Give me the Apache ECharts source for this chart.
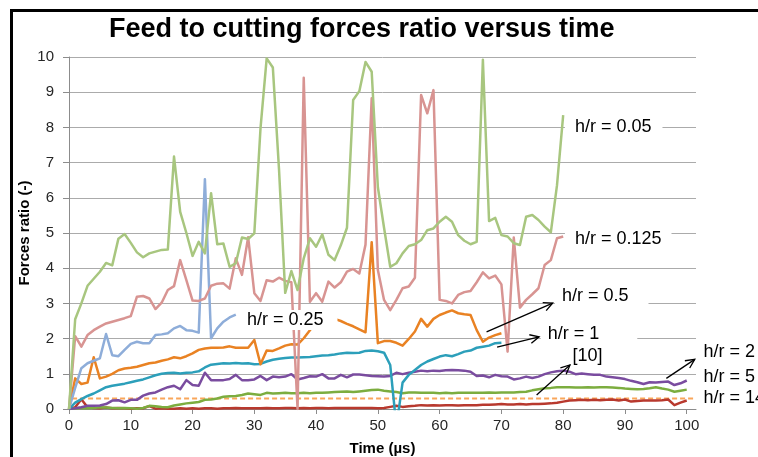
<!DOCTYPE html>
<html>
<head>
<meta charset="utf-8">
<script src="https://cdn.jsdelivr.net/npm/echarts@6/dist/echarts.min.js"></script>
<style>
  html, body { margin: 0; padding: 0; background: #fff; }
  #chart { width: 758px; height: 457px; }
</style>
</head>
<body>
<div id="chart"></div>
<script>
// Time axis (µs), one sample per microsecond
const time = [0,1,2,3,4,5,6,7,8,9,10,11,12,13,14,15,16,17,18,19,20,21,22,23,24,25,26,27,28,29,30,
  31,32,33,34,35,36,37,38,39,40,41,42,43,44,45,46,47,48,49,50,51,52,53,54,55,56,57,58,59,60,
  61,62,63,64,65,66,67,68,69,70,71,72,73,74,75,76,77,78,79,80,81,82,83,84,85,86,87,88,89,90,
  91,92,93,94,95,96,97,98,99,100];
const xTicks = [0,10,20,30,40,50,60,70,80,90,100];
const yTicks = [0,1,2,3,4,5,6,7,8,9,10];

// Feed / cutting force ratio for each h/r
const hr005 = [0,2.55,3.0,3.5,3.7,3.9,4.15,4.08,4.84,4.97,4.72,4.45,4.31,4.42,4.47,4.52,4.53,7.17,5.6,5.0,
  4.35,4.75,4.42,6.13,4.68,4.7,4.04,4.14,4.87,4.83,4.99,7.97,9.96,9.7,6.8,3.3,3.92,3.38,4.28,4.85,
  4.61,4.96,4.38,4.23,4.65,5.15,8.78,9.03,9.86,9.58,6.3,5.15,4.04,4.14,4.42,4.63,4.68,4.8,5.08,5.13,
  5.32,5.46,5.32,4.94,4.78,4.68,4.75,9.92,5.34,5.43,4.94,4.9,4.71,4.66,5.46,5.51,5.37,5.18,5.02,6.36,8.35];
const hr0125 = [0,2.07,1.77,2.1,2.24,2.34,2.43,2.48,2.53,2.58,2.64,3.19,3.21,3.14,2.84,3.02,3.38,3.49,4.23,3.66,
  3.08,3.07,3.14,3.5,3.56,3.57,3.42,4.28,3.81,4.88,3.29,3.07,3.66,3.62,3.73,3.64,3.6,0,9.41,3.05,
  3.29,3.05,3.62,3.45,3.6,3.9,3.98,3.85,4.67,8.83,3.95,3.1,2.81,3.1,3.43,3.48,3.73,8.92,8.4,9.06,
  3.1,3.07,3.0,3.24,3.32,3.35,3.6,3.88,3.71,3.79,3.54,1.63,4.87,2.88,3.1,3.26,3.43,4.09,4.23,4.85,4.9];
const hr025 = [0,0.6,1.16,1.3,1.37,1.44,2.13,1.53,1.5,1.68,1.85,1.91,1.87,1.87,2.1,2.12,2.15,2.29,2.36,2.24,
  2.22,2.17,6.53,2.01,2.29,2.48,2.6,2.68];
const hr05 = [0,0.87,0.71,0.75,1.47,0.87,0.92,1.0,1.1,1.15,1.17,1.2,1.25,1.3,1.32,1.37,1.41,1.47,1.44,1.5,
  1.58,1.68,1.72,1.74,1.74,1.75,1.78,1.74,1.74,1.74,1.96,1.27,1.66,1.65,1.72,1.8,1.84,1.83,2.01,2.24,
  2.45,2.55,2.6,2.56,2.5,2.42,2.35,2.26,2.18,4.74,1.87,1.93,1.93,1.88,1.8,1.99,2.2,2.56,2.34,2.56,
  2.67,2.74,2.8,2.72,2.69,2.67,2.24,1.91,2.03,2.1,2.15];
const hr1 = [0,0.18,0.28,0.37,0.44,0.53,0.62,0.66,0.69,0.72,0.76,0.8,0.84,0.9,0.96,1.0,1.02,1.03,1.01,1.03,
  1.04,1.07,1.18,1.26,1.28,1.3,1.29,1.31,1.29,1.3,1.27,1.28,1.35,1.4,1.43,1.45,1.46,1.46,1.47,1.48,
  1.5,1.52,1.53,1.55,1.58,1.6,1.59,1.6,1.65,1.66,1.64,1.6,1.25,-0.5,0.75,0.97,1.11,1.25,1.35,1.42,
  1.49,1.53,1.5,1.56,1.63,1.66,1.74,1.77,1.8,1.87,1.88];
const hr2 = [0,0.02,0.05,0.09,0.09,0.1,0.14,0.24,0.25,0.19,0.26,0.26,0.38,0.44,0.47,0.55,0.62,0.66,0.56,0.82,
  0.68,0.66,1.03,0.82,0.82,0.82,0.85,0.97,0.82,0.82,0.84,0.94,0.82,0.92,0.9,0.92,0.99,0.84,0.88,0.93,
  0.92,0.99,0.87,0.87,0.97,0.9,0.98,0.98,0.96,0.94,0.93,0.92,0.94,1.03,0.99,1.03,1.06,1.09,1.07,1.09,
  1.08,1.1,1.11,1.1,1.09,1.06,0.94,0.95,0.9,0.97,0.93,0.92,0.84,0.87,0.92,0.88,0.92,0.99,1.04,1.07,
  1.09,1.06,0.99,1.01,0.99,0.97,0.97,0.92,0.9,0.88,0.85,0.8,0.76,0.71,0.76,0.75,0.77,0.78,0.68,0.73,0.81];
const hr5 = [0,0.02,0.03,0.02,0.03,0.05,0.04,0.03,0.02,0.03,0.02,0.01,0.03,0.09,0.08,0.06,0.05,0.1,0.13,0.16,
  0.18,0.2,0.26,0.27,0.3,0.35,0.36,0.37,0.4,0.44,0.42,0.4,0.46,0.44,0.45,0.46,0.45,0.45,0.46,0.45,
  0.46,0.46,0.47,0.48,0.49,0.5,0.48,0.5,0.52,0.54,0.55,0.52,0.5,0.48,0.45,0.47,0.47,0.46,0.46,0.46,
  0.45,0.46,0.45,0.46,0.46,0.46,0.46,0.46,0.47,0.46,0.47,0.47,0.47,0.48,0.49,0.53,0.56,0.59,0.6,0.62,
  0.62,0.62,0.61,0.61,0.62,0.61,0.62,0.62,0.61,0.6,0.58,0.57,0.56,0.57,0.59,0.62,0.58,0.55,0.49,0.52,0.55];
const hr14 = [0,0.05,0.28,0.05,0.03,0.02,0.04,0.02,0.03,0.02,0.01,0.02,0.02,0.08,0.01,0.02,0.01,0.01,0.02,0.01,
  0.02,0.01,0.02,0.02,0.01,0.02,0.02,0.03,0.02,0.02,0.02,0.02,0.03,0.02,0.02,0.03,0.03,0.02,0.03,0.02,
  0.03,0.03,0.02,0.03,0.03,0.03,0.03,0.03,0.03,0.03,0.02,0.03,0.06,0.09,0.06,0.08,0.09,0.11,0.1,0.11,
  0.1,0.11,0.11,0.1,0.11,0.11,0.11,0.12,0.12,0.13,0.14,0.13,0.13,0.14,0.13,0.14,0.14,0.15,0.16,0.18,
  0.21,0.24,0.25,0.26,0.25,0.26,0.25,0.26,0.27,0.24,0.27,0.21,0.23,0.24,0.24,0.24,0.25,0.27,0.11,0.18,0.24];

// Reference level [10]
const refTime = [0.5, 101.5];
const refValue = [0.3, 0.3];

// Callout texts, anchored in data units: [time of text left edge, ratio at text middle]
const noteText = ['h/r = 0.05', 'h/r = 0.125', 'h/r = 0.25', 'h/r = 0.5', 'h/r = 1', '[10]', 'h/r = 2', 'h/r = 5', 'h/r = 14'];
const noteAt = [[81.9, 8.01], [81.9, 4.84], [28.8, 2.53], [79.8, 3.21], [77.5, 2.13], [81.5, 1.5], [102.7, 1.62], [102.7, 0.91], [102.7, 0.31]];
// Arrows: [from, to] in data units
const arrowFrom = [[67.6, 2.19], [69.3, 1.76], [75.7, 0.40], [96.7, 0.87]];
const arrowTo = [[78.3, 3.01], [76.1, 2.05], [81.1, 1.25], [101.3, 1.41]];

const pairs = (vals, xs) => vals.map((v, i) => [xs[i], v]);

function lineSeries(name, vals, color, xs) {
  return {
    name: name, type: 'line', data: pairs(vals, xs || time),
    showSymbol: false, symbol: 'none', clip: true,
    lineStyle: { color: color, width: 2.5, join: 'round' },
    itemStyle: { color: color },
    emphasis: { disabled: true }
  };
}

const FONT = 'Liberation Sans, Arial, sans-serif';
const chart = echarts.init(document.getElementById('chart'), null, { renderer: 'canvas' });

chart.setOption({
  animation: false,
  backgroundColor: '#ffffff',
  title: {
    text: 'Feed to cutting forces ratio versus time',
    left: 104, top: 11,
    textStyle: { fontFamily: FONT, fontWeight: 'bold', fontSize: 27, color: '#000' }
  },
  grid: { left: 69, right: 62, top: 57, bottom: 48, containLabel: false, outerBoundsMode: 'none' },
  xAxis: {
    type: 'value', min: 0, max: 101.5, interval: 10,
    name: 'Time (µs)', nameLocation: 'middle', nameGap: 32,
    nameTextStyle: { fontFamily: FONT, fontWeight: 'bold', fontSize: 15, color: '#000' },
    axisLine: { show: true, lineStyle: { color: '#8c8c8c', width: 1 } },
    axisTick: { show: true, length: 5, customValues: xTicks, lineStyle: { color: '#8c8c8c' } },
    axisLabel: { customValues: xTicks, margin: 9, fontFamily: FONT, fontSize: 15, color: '#262626' },
    splitLine: { show: false }
  },
  yAxis: {
    type: 'value', min: 0, max: 10, interval: 1,
    axisLine: { show: true, lineStyle: { color: '#8c8c8c', width: 1 } },
    axisTick: { show: true, length: 6, lineStyle: { color: '#8c8c8c' } },
    axisLabel: { margin: 15, fontFamily: FONT, fontSize: 15, color: '#262626',
      formatter: v => (yTicks.indexOf(v) >= 0 ? String(v) : '') },
    splitLine: { show: true, lineStyle: { color: '#ababab', width: 1 } }
  },
  series: [
    {
      name: '[10]', type: 'line', data: pairs(refValue, refTime), showSymbol: false, symbol: 'none',
      lineStyle: { color: '#f9a65a', width: 2, type: [5, 3] }, emphasis: { disabled: true }
    },
    lineSeries('h/r = 14', hr14, '#b8392e'),
    lineSeries('h/r = 5', hr5, '#7cad3f'),
    lineSeries('h/r = 2', hr2, '#7a4c9f'),
    lineSeries('h/r = 1', hr1, '#2c9fba'),
    lineSeries('h/r = 0.5', hr05, '#e98223'),
    lineSeries('h/r = 0.25', hr025, '#8eadd9'),
    lineSeries('h/r = 0.125', hr0125, '#d89492'),
    lineSeries('h/r = 0.05', hr005, '#a8c67f')
  ]
});

// Callouts and arrows are placed through the axes' own scales
const toPx = p => chart.convertToPixel({ gridIndex: 0 }, p);
// per-callout box padding: [vertical, left, right]
const notePad = [[4, 10, 11], [4, 10, 10], [1, 9, 14], [4, 7, 20], [4, 7, 38], [1, 3, 3], [0, 0, 0], [0, 0, 0], [0, 0, 0]];
const elements = [];

noteText.forEach((t, i) => {
  const p = toPx(noteAt[i]);
  const pad = notePad[i];
  const boxed = pad[1] + pad[2] > 0;
  elements.push({
    type: 'text', z: 100,
    x: p[0] - pad[1], y: p[1],
    style: {
      text: t, fill: '#000',
      font: '18px "Liberation Sans", Arial, sans-serif',
      align: 'left', verticalAlign: 'middle',
      backgroundColor: boxed ? '#ffffff' : null,
      padding: [pad[0], pad[2], pad[0], pad[1]]
    }
  });
});

arrowFrom.forEach((f, i) => {
  const a = toPx(f), b = toPx(arrowTo[i]);
  const ang = Math.atan2(b[1] - a[1], b[0] - a[0]);
  const L = 10, w = 0.45;
  const h1 = [b[0] - L * Math.cos(ang - w), b[1] - L * Math.sin(ang - w)];
  const h2 = [b[0] - L * Math.cos(ang + w), b[1] - L * Math.sin(ang + w)];
  elements.push({ type: 'line', z: 101, shape: { x1: a[0], y1: a[1], x2: b[0], y2: b[1] }, style: { stroke: '#000', lineWidth: 1.3 } });
  elements.push({ type: 'polyline', z: 101, shape: { points: [h1, b, h2] }, style: { stroke: '#000', lineWidth: 1.3, fill: null } });
});

// vertical axis title, centred on the plot height
const yMid = (toPx([0, 0])[1] + toPx([0, 10])[1]) / 2;
elements.push({
  type: 'text', z: 100, x: 25, y: yMid, rotation: Math.PI / 2,
  style: { text: 'Forces ratio (-)', fill: '#000', font: 'bold 15px "Liberation Sans", Arial, sans-serif',
    align: 'center', verticalAlign: 'middle' }
});

// outer frame of the figure (top and left edges)
elements.push({ type: 'rect', z: 102, shape: { x: 10, y: 9, width: 748, height: 3 }, style: { fill: '#000' } });
elements.push({ type: 'rect', z: 102, shape: { x: 10, y: 9, width: 3, height: 448 }, style: { fill: '#000' } });

chart.setOption({ graphic: { elements: elements } });
</script>
</body>
</html>
